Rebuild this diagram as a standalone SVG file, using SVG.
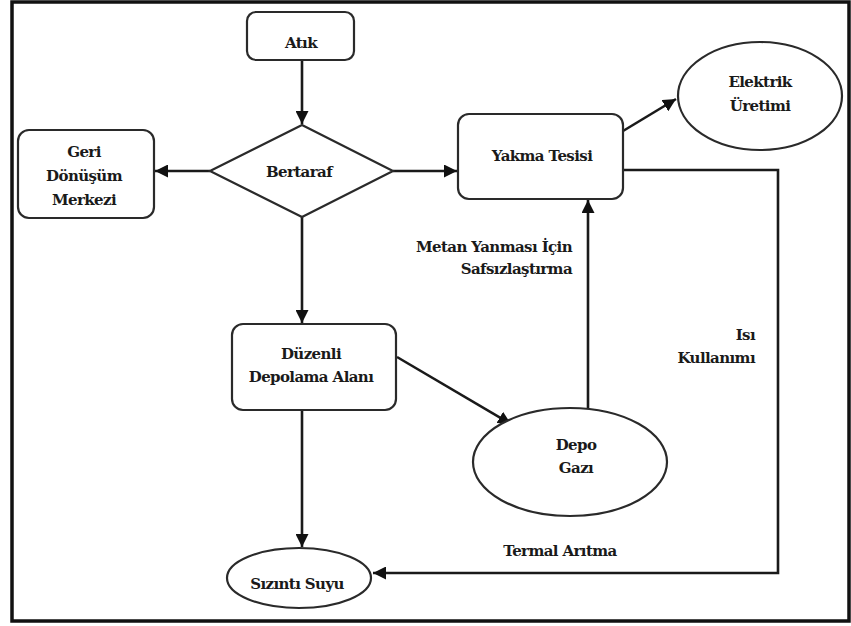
<svg xmlns="http://www.w3.org/2000/svg" width="851" height="626" viewBox="0 0 851 626">
<style>
.box{fill:#fff;stroke:#2a2a2a;stroke-width:2.2}
.ln{fill:none;stroke:#1a1a1a;stroke-width:2.6}
.t{font-family:'DejaVu Serif',serif;font-size:15px;font-weight:bold;letter-spacing:-0.6px;fill:#1a1a1a;text-anchor:middle}
.r{text-anchor:end}
</style>
<defs>
<marker id="ah" viewBox="0 0 10 10" refX="10" refY="5" markerWidth="5" markerHeight="5" markerUnits="strokeWidth" orient="auto">
<path d="M0,0 L10,5 L0,10 Z" fill="#111"/>
</marker>
</defs>
<rect x="12" y="2" width="837" height="619" fill="#fff" stroke="#111" stroke-width="3.5"/>
<g id="connectors">
<line class="ln" x1="302" y1="60" x2="302" y2="124" marker-end="url(#ah)"/>
<line class="ln" x1="210" y1="171" x2="155" y2="171" marker-end="url(#ah)"/>
<line class="ln" x1="393" y1="171" x2="457" y2="171" marker-end="url(#ah)"/>
<line class="ln" x1="623" y1="131" x2="676" y2="99" marker-end="url(#ah)"/>
<line class="ln" x1="302" y1="217" x2="302" y2="323" marker-end="url(#ah)"/>
<line class="ln" x1="397" y1="357" x2="511" y2="424" marker-end="url(#ah)"/>
<line class="ln" x1="588" y1="408" x2="588" y2="200" marker-end="url(#ah)"/>
<line class="ln" x1="302" y1="410" x2="302" y2="547" marker-end="url(#ah)"/>
<polyline class="ln" points="624,170 778,170 778,573 373,573" marker-end="url(#ah)"/>
</g>
<g id="atik"><rect class="box" x="247" y="12" width="107" height="48" rx="9"/><text class="t" x="301" y="48">Atık</text></g>
<g id="bertaraf"><polygon class="box" points="210,171 302,125 393,171 302,217"/><text class="t" x="299" y="177">Bertaraf</text></g>
<g id="geri"><rect class="box" x="18" y="130" width="136" height="88" rx="11"/>
<text class="t" x="84" y="157">Geri</text><text class="t" x="84" y="181">Dönüşüm</text><text class="t" x="84" y="205">Merkezi</text></g>
<g id="yakma"><rect class="box" x="458" y="114" width="165" height="85" rx="11"/><text class="t" x="542" y="161">Yakma Tesisi</text></g>
<g id="elektrik"><ellipse class="box" cx="760" cy="96" rx="82" ry="54"/><text class="t" x="760" y="87">Elektrik</text><text class="t" x="760" y="111">Üretimi</text></g>
<g id="duzenli"><rect class="box" x="232" y="324" width="164" height="86" rx="11"/><text class="t" x="311" y="359">Düzenli</text><text class="t" x="311" y="382">Depolama Alanı</text></g>
<g id="depo"><ellipse class="box" cx="570" cy="462" rx="97" ry="54"/><text class="t" x="576" y="450">Depo</text><text class="t" x="576" y="473">Gazı</text></g>
<g id="sizinti"><ellipse class="box" cx="299" cy="578" rx="72" ry="30"/><text class="t" x="297" y="589">Sızıntı Suyu</text></g>
<g id="labels">
<text class="t r" x="572" y="252">Metan Yanması İçin</text>
<text class="t r" x="572" y="274">Safsızlaştırma</text>
<text class="t r" x="755" y="340">Isı</text>
<text class="t r" x="755" y="363">Kullanımı</text>
<text class="t" x="560" y="556">Termal Arıtma</text>
</g>
</svg>
